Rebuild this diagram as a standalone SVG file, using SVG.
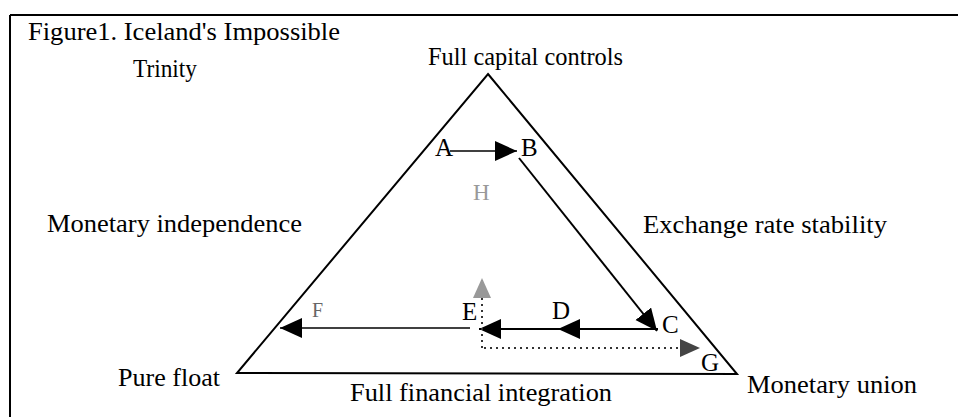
<svg xmlns="http://www.w3.org/2000/svg" width="958" height="417" viewBox="0 0 958 417">
<style>
text{font-family:"Liberation Serif","Times New Roman",serif;fill:#000}
.lbl{font-size:25px}
.pt{font-size:25px}
.edge{stroke:#000;stroke-width:2;fill:none}
.dot{stroke:#333;stroke-width:2;stroke-dasharray:2,4;fill:none}
</style>
<defs>
<marker id="ah" markerUnits="userSpaceOnUse" markerWidth="24" markerHeight="22" refX="22" refY="10" orient="auto"><path d="M0,0 L22,10 L0,20 Z" fill="#000"/></marker>
<marker id="ahg" markerUnits="userSpaceOnUse" markerWidth="24" markerHeight="22" refX="20" refY="9" orient="auto"><path d="M0,0 L20,9 L0,18 Z" fill="#999"/></marker>
<marker id="ahd" markerUnits="userSpaceOnUse" markerWidth="24" markerHeight="22" refX="20" refY="9" orient="auto"><path d="M0,0 L20,9 L0,18 Z" fill="#444"/></marker>
</defs>
<rect width="958" height="417" fill="#fff"/>
<g id="frame">
<line x1="10" y1="15" x2="958" y2="15" stroke="#000" stroke-width="2"/>
<line x1="10" y1="15" x2="10" y2="417" stroke="#000" stroke-width="2"/>
</g>
<g id="title">
<text class="lbl" x="28" y="40" textLength="312" lengthAdjust="spacingAndGlyphs">Figure1. Iceland's Impossible</text>
<text class="lbl" x="133" y="77" textLength="64" lengthAdjust="spacingAndGlyphs">Trinity</text>
</g>
<g id="triangle">
<path class="edge" d="M488,74 L737,374 L237,373 Z" stroke-linejoin="miter"/>
</g>
<g id="corner-labels">
<text class="lbl" x="428" y="65" textLength="195" lengthAdjust="spacingAndGlyphs">Full capital controls</text>
<text class="lbl" x="47" y="232" textLength="255" lengthAdjust="spacingAndGlyphs">Monetary independence</text>
<text class="lbl" x="643" y="233" textLength="244" lengthAdjust="spacingAndGlyphs">Exchange rate stability</text>
<text class="lbl" x="118" y="386" textLength="102" lengthAdjust="spacingAndGlyphs">Pure float</text>
<text class="lbl" x="350" y="401" textLength="262" lengthAdjust="spacingAndGlyphs">Full financial integration</text>
<text class="lbl" x="747" y="393" textLength="170" lengthAdjust="spacingAndGlyphs">Monetary union</text>
</g>
<g id="connectors">
<line x1="450" y1="151" x2="517" y2="151" stroke="#000" stroke-width="1.5" marker-end="url(#ah)"/>
<line x1="519" y1="158" x2="657" y2="331" stroke="#000" stroke-width="2" marker-end="url(#ah)"/>
<line x1="658" y1="329" x2="558" y2="329" stroke="#000" stroke-width="2" marker-end="url(#ah)"/>
<line x1="558" y1="329" x2="479" y2="329" stroke="#000" stroke-width="2" marker-end="url(#ah)"/>
<line x1="470" y1="328" x2="280" y2="328" stroke="#000" stroke-width="1.5" marker-end="url(#ah)"/>
<line class="dot" x1="482" y1="348" x2="482" y2="278" marker-end="url(#ahg)"/>
<line class="dot" x1="484" y1="348" x2="700" y2="348" marker-end="url(#ahd)"/>
</g>
<g id="point-A"><text class="pt" x="435" y="156">A</text></g>
<g id="point-B"><text class="pt" x="521" y="156">B</text></g>
<g id="point-C"><text class="pt" x="662" y="333">C</text></g>
<g id="point-D"><text class="pt" x="552" y="319">D</text></g>
<g id="point-E"><text class="pt" x="462" y="320">E</text></g>
<g id="point-F"><text x="312" y="317" font-size="20" style="fill:#666">F</text></g>
<g id="point-G"><text class="pt" x="701" y="371">G</text></g>
<g id="point-H"><text x="473" y="200" font-size="23" style="fill:#999">H</text></g>
</svg>
